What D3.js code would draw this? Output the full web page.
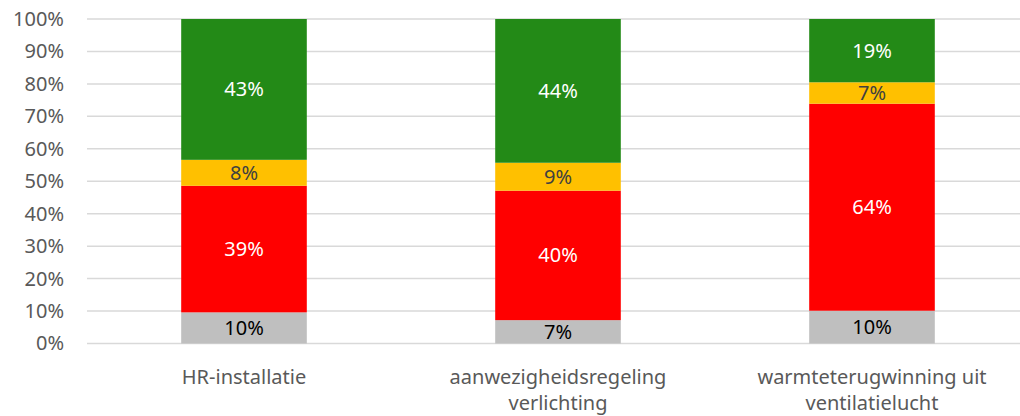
<!DOCTYPE html>
<html>
<head>
<meta charset="utf-8">
<script src="https://cdn.jsdelivr.net/npm/d3@7"></script>
<style>
  html, body { margin: 0; padding: 0; background: #fff; }
  svg { display: block; font-family: "Noto Sans", "Open Sans", sans-serif; }
</style>
</head>
<body>
<svg id="chart" width="1020" height="416"></svg>
<script>
const categories = [
  ["HR-installatie"],
  ["aanwezigheidsregeling", "verlichting"],
  ["warmteterugwinning uit", "ventilatielucht"]
];
const seriesNames = ["grijs", "rood", "geel", "groen"];
const grijs = [9.6, 7.2, 10.1];
const rood = [39.0, 39.9, 63.8];
const geel = [8.0, 8.6, 6.6];
const groen = [43.4, 44.3, 19.5];
const labelsGrijs = ["10%", "7%", "10%"];
const labelsRood = ["39%", "40%", "64%"];
const labelsGeel = ["8%", "9%", "7%"];
const labelsGroen = ["43%", "44%", "19%"];
const yTicks = [0, 10, 20, 30, 40, 50, 60, 70, 80, 90, 100];

const colors = { grijs: "#bfbfbf", rood: "#ff0000", geel: "#ffc000", groen: "#238a17" };
const textColors = { grijs: "#000000", rood: "#ffffff", geel: "#404040", groen: "#ffffff" };

const data = categories.map((c, i) => ({
  key: i, grijs: grijs[i], rood: rood[i], geel: geel[i], groen: groen[i],
  labels: { grijs: labelsGrijs[i], rood: labelsRood[i], geel: labelsGeel[i], groen: labelsGroen[i] }
}));

const svg = d3.select("#chart");
const x = d3.scaleBand().domain(d3.range(categories.length)).range([87, 1029]).paddingInner(0.6).paddingOuter(0.3);
const y = d3.scaleLinear().domain([0, 100]).range([343.5, 19]);

// gridlines
svg.append("g").selectAll("line").data(yTicks).join("line")
  .attr("x1", 87).attr("x2", 1029)
  .attr("y1", d => y(d)).attr("y2", d => y(d))
  .attr("stroke", "#d9d9d9").attr("stroke-width", 1.5);

// y axis labels
const yAxis = d3.axisLeft(y).tickValues(yTicks).tickFormat(d => d + "%").tickSize(0).tickPadding(0);
const ya = svg.append("g").attr("transform", "translate(64,0)").call(yAxis);
ya.select(".domain").remove();
ya.selectAll("text").attr("font-size", 20).attr("fill", "#595959").attr("font-family", "Noto Sans");

const stack = d3.stack().keys(seriesNames);
const stacked = stack(data);

const groups = svg.append("g").selectAll("g").data(stacked).join("g")
  .attr("fill", d => colors[d.key]);

groups.selectAll("rect").data(d => d).join("rect")
  .attr("x", (d, i) => x(i))
  .attr("width", x.bandwidth())
  .attr("y", d => y(d[1]))
  .attr("height", d => y(d[0]) - y(d[1]));

// data labels
const lbl = svg.append("g");
stacked.forEach(s => {
  lbl.selectAll(null).data(s).join("text")
    .attr("x", (d, i) => x(i) + x.bandwidth() / 2)
    .attr("y", d => (y(d[0]) + y(d[1])) / 2)
    .attr("dy", "0.35em")
    .attr("text-anchor", "middle")
    .attr("font-size", 20)
    .attr("fill", textColors[s.key])
    .text((d, i) => data[i].labels[s.key]);
});

// category labels
const xl = svg.append("g");
categories.forEach((lines, i) => {
  const t = xl.append("text")
    .attr("x", x(i) + x.bandwidth() / 2)
    .attr("y", 384)
    .attr("text-anchor", "middle")
    .attr("font-size", 20)
    .attr("fill", "#595959");
  lines.forEach((ln, j) => {
    t.append("tspan").attr("x", x(i) + x.bandwidth() / 2).attr("dy", j === 0 ? 0 : 26).text(ln);
  });
});
</script>
</body>
</html>
